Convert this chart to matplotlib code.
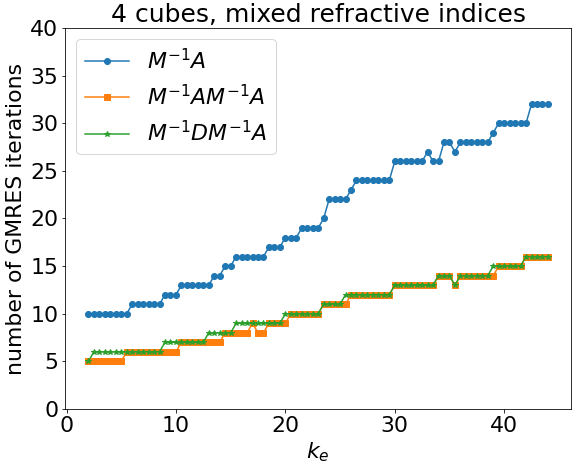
import numpy as np
import matplotlib
matplotlib.use("Agg")
import matplotlib.pyplot as plt

k_e = np.arange(2.0, 44.01, 0.5)

# (value, number of consecutive points)
blue_runs = [(10, 8), (11, 6), (12, 3), (13, 6), (14, 2), (15, 2), (16, 6),
             (17, 3), (18, 3), (19, 4), (20, 1), (22, 4), (23, 1), (24, 7),
             (26, 6), (27, 1), (26, 2), (28, 2), (27, 1), (28, 6), (29, 1),
             (30, 6), (32, 4)]
orange_runs = [(5, 7), (6, 10), (7, 8), (8, 5), (9, 1), (8, 2), (9, 4),
               (10, 6), (11, 5), (12, 8), (13, 8), (14, 3), (13, 1), (14, 7),
               (15, 5), (16, 5)]
green_runs = [(5, 1), (6, 13), (7, 8), (8, 5), (9, 9), (10, 7), (11, 4),
              (12, 9), (13, 8), (14, 3), (13, 1), (14, 6), (15, 6), (16, 5)]


def expand(runs):
    out = []
    for v, n in runs:
        out += [v] * n
    return out


iters_A = expand(blue_runs)
iters_AA = expand(orange_runs)
iters_DA = expand(green_runs)

plt.rcParams["font.size"] = 22

fig = plt.figure(figsize=(579 / 72, 471 / 72), dpi=72)
ax = fig.add_subplot(111)
fig.subplots_adjust(left=0.113, right=0.986, top=0.9406, bottom=0.1316)

ax.plot(k_e, iters_A, marker="o", label=r"$M^{-1}A$")
ax.plot(k_e, iters_AA, marker="s", label=r"$M^{-1}AM^{-1}A$")
ax.plot(k_e, iters_DA, marker="*", label=r"$M^{-1}DM^{-1}A$")

ax.set_ylim(0, 40)
ax.set_xticks([0, 10, 20, 30, 40])
ax.set_yticks(range(0, 41, 5))
ax.set_xlabel(r"$k_e$")
ax.set_ylabel("number of GMRES iterations")
ax.set_title("4 cubes, mixed refractive indices", fontsize=25)
ax.legend(loc="upper left")

fig.savefig("out.png", dpi=72)
